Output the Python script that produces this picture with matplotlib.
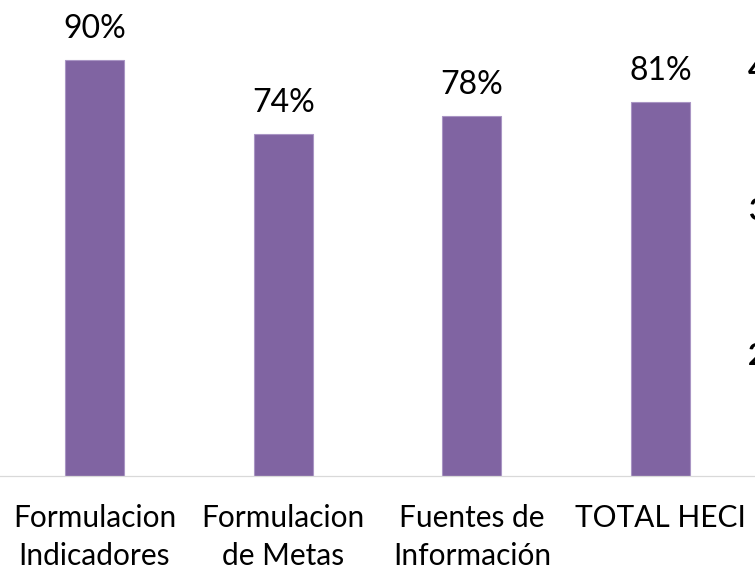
import matplotlib
matplotlib.use("Agg")
import matplotlib.pyplot as plt
from matplotlib.transforms import blended_transform_factory

categories = ["Formulacion\nIndicadores", "Formulacion\nde Metas", "Fuentes de\nInformación", "TOTAL HECI"]
values = [0.90, 0.74, 0.78, 0.81]
value_labels = ["90%", "74%", "78%", "81%"]
side_ticks = ["4", "3", "2"]
side_tick_y = [70, 211, 356]  # pixel rows from top of the neighbouring cropped chart

plt.rcParams['font.family'] = ['Lato', 'DejaVu Sans']

W, H = 755, 570
fig = plt.figure(figsize=(W / 100, H / 100), dpi=100)
base_px = 476
ax = fig.add_axes([0, (H - base_px) / H, 1, base_px / H])

x = list(range(len(categories)))
bars = ax.bar(x, values, width=0.313, color="#8064A2", edgecolor="#a995c4", linewidth=0.8)
ax.set_xlim(-0.5, 3.5)
ax.set_ylim(0, base_px / 4.62 / 100)

for b, lab in zip(bars, value_labels):
    ax.annotate(lab, (b.get_x() + b.get_width() / 2, b.get_height()),
                xytext=(0, 15.8), textcoords="offset points",
                ha="center", va="baseline", fontsize=23, color="#000000")

# category labels below the axis (x from data scale, y in figure pixels)
ax.set_xticks(x)
ax.set_xticklabels([""] * len(x))
trans = blended_transform_factory(ax.transData, fig.transFigure)
for xi, cat in zip(x, categories):
    for li, line in enumerate(cat.split("\n")):
        ybase = 527 + 38 * li
        ax.text(xi, 1 - ybase / H, line, transform=trans, ha="center", va="baseline",
                fontsize=21.5, color="#000000", clip_on=False)

ax.tick_params(axis="x", length=0)
ax.set_yticks([])
for s in ["top", "left", "right"]:
    ax.spines[s].set_visible(False)
ax.spines["bottom"].set_color("#d9d9d9")
ax.spines["bottom"].set_linewidth(0.9)

for t, yp in zip(side_ticks, side_tick_y):
    fig.text(748 / W, 1 - yp / H, t, ha="left", va="center", fontsize=22,
             fontweight="bold", color="#000000")

fig.savefig("out.png", dpi=100)
